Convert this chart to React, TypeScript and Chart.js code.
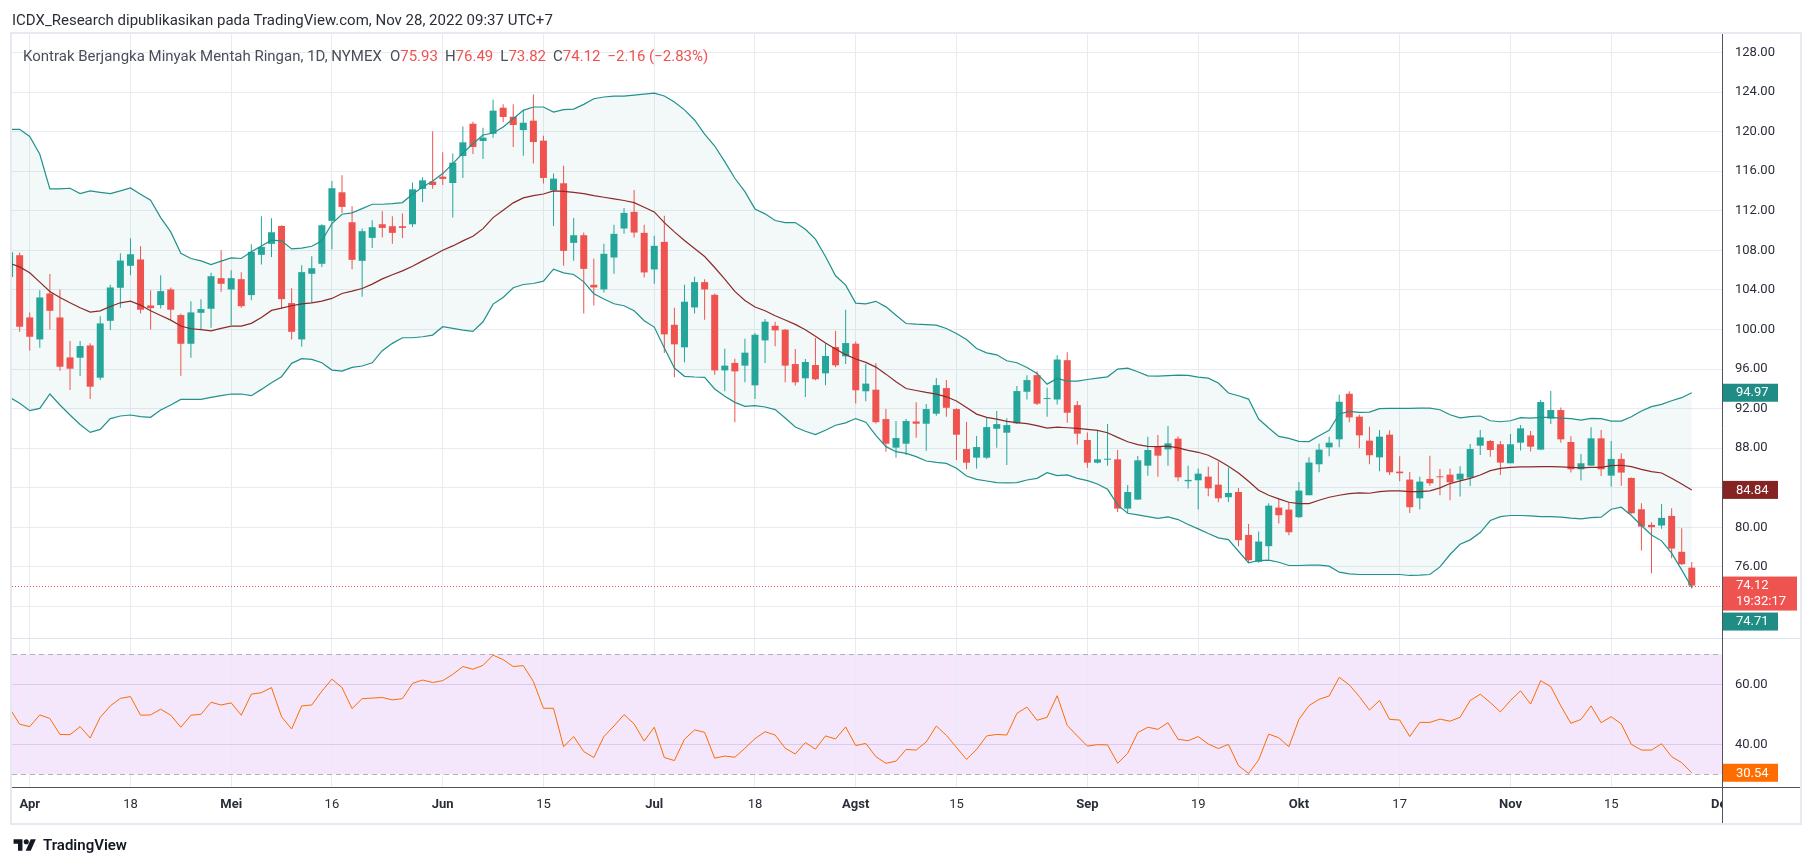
import React, { useEffect, useRef } from 'react';
import { Chart, registerables } from 'chart.js';

Chart.register(...registerables);

// Daily bars, index 0 = 2022-03-30 ... index 167 = 2022-11-28 (CL1!, NYMEX)
const opens = [
  105.3, 107.51, 101.22, 99.0, 103.64, 101.22, 97.18, 97.15, 98.39, 95.13,
  100.88, 104.22, 106.44, 107.08, 102.43, 102.47, 104.05, 101.46, 98.56, 101.69,
  102.1, 105.19, 104.05, 105.09, 103.48, 107.55, 108.66, 110.47, 102.67, 99.0,
  105.63, 106.64, 110.98, 113.87, 110.84, 106.94, 109.26, 110.64, 110.44, 110.44,
  110.64, 114.21, 114.95, 115.45, 114.81, 117.54, 120.8, 119.05, 119.79, 122.42,
  121.51, 120.16, 121.11, 119.09, 114.07, 114.78, 108.76, 109.53, 104.52, 104.05,
  107.28, 110.21, 111.89, 109.77, 106.07, 108.86, 100.48, 98.2, 102.23, 104.79,
  103.51, 95.87, 96.62, 96.35, 94.36, 98.9, 100.38, 99.98, 96.51, 95.07,
  96.41, 95.57, 98.23, 97.29, 98.57, 93.76, 93.92, 90.95, 88.06, 88.46,
  90.71, 90.48, 91.49, 94.08, 91.96, 87.92, 87.05, 87.05, 89.97, 89.57,
  90.51, 93.71, 95.39, 92.97, 92.93, 96.9, 92.36, 88.83, 86.54, 86.84,
  86.88, 81.9, 82.81, 86.24, 88.16, 87.89, 88.97, 84.66, 84.76, 85.13,
  84.32, 83.05, 83.58, 79.24, 76.52, 78.1, 82.0, 81.8, 81.03, 83.25,
  86.38, 88.09, 88.9, 93.51, 91.19, 88.77, 87.08, 89.37, 85.64, 84.83,
  82.94, 84.9, 85.13, 85.33, 84.83, 85.03, 88.26, 88.73, 88.4, 86.48,
  88.56, 89.3, 87.86, 90.99, 91.86, 88.63, 85.87, 86.24, 89.0, 85.23,
  86.92, 85.0, 81.83, 80.25, 80.19, 81.16, 77.53, 75.93,
];
const highs = [
  108.0, 107.78, 101.73, 103.98, 105.6, 104.05, 98.83, 98.83, 98.6, 101.35,
  104.52, 107.71, 109.23, 108.42, 103.98, 105.49, 104.25, 101.62, 102.87, 103.07,
  105.73, 108.02, 106.0, 105.8, 108.62, 111.45, 111.25, 110.54, 104.18, 106.5,
  107.41, 110.64, 115.02, 115.59, 112.46, 110.2, 111.05, 111.95, 111.45, 111.72,
  114.85, 115.39, 120.03, 117.91, 117.78, 120.53, 121.01, 120.4, 123.23, 122.76,
  122.76, 122.22, 123.76, 119.59, 115.76, 116.56, 111.28, 109.8, 107.15, 108.66,
  110.58, 112.29, 114.11, 110.58, 109.47, 111.49, 102.2, 104.52, 105.33, 105.09,
  103.65, 98.06, 97.05, 99.07, 99.64, 101.06, 100.79, 100.05, 98.03, 97.02,
  99.14, 98.63, 99.88, 102.0, 98.8, 96.51, 96.62, 91.96, 90.75, 90.95,
  92.66, 92.46, 95.09, 94.89, 92.03, 90.65, 89.23, 91.12, 91.76, 91.02,
  94.28, 95.39, 95.79, 94.11, 97.41, 97.71, 92.77, 89.6, 89.77, 90.44,
  87.82, 84.29, 87.21, 89.17, 89.33, 90.24, 89.2, 86.24, 85.94, 86.14,
  86.65, 86.04, 83.99, 80.35, 79.58, 82.44, 82.91, 82.57, 84.59, 87.08,
  88.46, 89.17, 93.41, 93.75, 91.39, 90.18, 89.84, 89.81, 87.18, 85.6,
  85.13, 87.25, 85.91, 85.94, 86.17, 88.43, 89.84, 88.83, 88.73, 89.44,
  90.35, 89.74, 92.87, 93.78, 92.13, 89.2, 87.42, 90.11, 89.84, 88.73,
  87.49, 85.05, 82.44, 80.52, 82.37, 81.94, 79.92, 76.49,
];
const lows = [
  104.9, 99.77, 97.86, 98.16, 100.01, 95.84, 93.88, 95.3, 92.98, 94.9,
  99.94, 102.2, 105.49, 101.62, 100.01, 102.13, 101.02, 95.33, 97.15, 99.94,
  100.18, 103.81, 100.45, 102.2, 102.97, 106.57, 107.34, 102.13, 99.0, 98.26,
  102.7, 106.33, 108.12, 111.79, 106.1, 103.31, 108.25, 109.3, 108.66, 109.26,
  110.37, 112.9, 114.24, 114.61, 111.31, 115.32, 117.74, 117.24, 119.39, 120.97,
  118.45, 117.57, 116.77, 114.75, 110.47, 106.44, 106.94, 101.62, 102.44, 103.75,
  105.63, 109.67, 109.3, 105.26, 104.62, 97.62, 95.17, 96.68, 101.63, 100.99,
  95.44, 93.76, 90.63, 94.66, 92.98, 96.62, 98.3, 94.66, 94.33, 93.18,
  94.87, 94.36, 96.18, 96.51, 92.51, 92.75, 90.49, 87.65, 87.05, 87.31,
  89.06, 87.75, 91.29, 91.18, 86.81, 85.87, 85.94, 86.91, 88.06, 86.31,
  90.44, 92.93, 92.36, 91.18, 92.43, 90.58, 88.39, 86.04, 86.47, 86.24,
  81.56, 81.43, 82.77, 85.23, 85.13, 86.24, 84.66, 83.92, 81.8, 83.15,
  82.54, 82.57, 78.1, 76.48, 76.42, 76.75, 80.39, 79.21, 80.96, 83.25,
  85.57, 87.18, 88.09, 90.62, 87.99, 86.38, 85.67, 85.3, 84.66, 81.46,
  81.8, 84.22, 83.25, 82.74, 83.13, 84.19, 87.32, 87.15, 85.3, 86.48,
  87.76, 87.66, 87.86, 90.45, 88.56, 85.54, 84.73, 86.24, 85.2, 84.12,
  84.22, 81.35, 77.66, 75.37, 79.85, 76.89, 76.2, 73.82,
];
const closes = [
  107.8, 100.28, 99.27, 103.24, 101.89, 96.24, 96.04, 98.33, 94.22, 100.62,
  104.25, 106.97, 107.61, 102.0, 102.16, 103.88, 102.0, 98.56, 101.73, 102.06,
  105.39, 104.62, 105.19, 102.36, 107.85, 108.35, 109.83, 103.07, 99.77, 105.8,
  106.2, 110.54, 114.28, 112.39, 107.04, 109.94, 110.34, 110.27, 109.77, 110.27,
  114.17, 115.08, 114.61, 115.22, 116.87, 118.92, 118.45, 119.39, 122.12, 121.48,
  120.67, 120.9, 118.95, 115.32, 115.25, 107.95, 109.53, 106.13, 104.25, 107.65,
  109.67, 111.79, 109.8, 105.77, 108.46, 99.51, 98.5, 102.81, 104.79, 104.05,
  95.87, 96.35, 95.77, 97.66, 99.47, 100.79, 99.91, 96.35, 94.66, 96.72,
  94.97, 97.32, 96.38, 98.63, 93.86, 94.53, 90.63, 88.46, 89.03, 90.75,
  90.48, 91.96, 94.38, 92.09, 89.37, 86.54, 88.12, 90.14, 90.44, 90.34,
  93.78, 94.89, 92.5, 93.07, 96.97, 91.59, 89.47, 86.54, 86.88, 86.91,
  81.9, 83.58, 86.78, 87.82, 87.25, 88.49, 85.06, 84.8, 85.43, 83.95,
  82.94, 83.48, 78.71, 76.69, 78.57, 82.2, 81.23, 79.51, 83.72, 86.55,
  87.86, 88.56, 92.7, 91.12, 89.3, 87.29, 89.17, 85.57, 85.47, 82.04,
  84.63, 84.46, 85.06, 84.56, 85.43, 87.92, 89.1, 87.82, 86.55, 88.4,
  90.01, 88.16, 92.67, 91.86, 88.9, 85.87, 86.48, 89.0, 85.87, 86.92,
  85.54, 81.43, 80.08, 80.02, 80.96, 77.86, 76.28, 74.12,
];

// Bollinger Bands (20, 2) as drawn
const bbUpper = [
  120.23, 120.23, 119.52, 117.71, 114.21, 114.21, 114.28, 113.74, 114.01, 113.87,
  113.74, 114.01, 114.31, 113.67, 113.06, 111.31, 109.87, 107.71, 107.18, 106.94,
  106.57, 106.91, 107.24, 107.18, 107.85, 108.45, 109.03, 108.96, 108.15, 108.22,
  108.42, 108.96, 110.71, 111.65, 111.79, 112.22, 112.66, 112.66, 112.73, 112.83,
  113.67, 114.41, 115.02, 115.76, 116.77, 117.84, 118.78, 119.66, 119.86, 120.47,
  121.31, 122.15, 122.49, 122.49, 121.98, 122.22, 122.28, 122.76, 123.33, 123.5,
  123.6, 123.6, 123.7, 123.8, 123.9, 123.6, 123.0, 122.2, 121.18, 119.76,
  118.55, 116.97, 115.29, 113.94, 112.19, 111.69, 111.02, 110.81, 110.81, 110.14,
  109.13, 107.38, 105.43, 104.49, 102.67, 102.6, 102.85, 102.29, 101.45, 100.61,
  100.54, 100.5, 100.44, 100.1, 99.6, 98.99, 98.08, 97.64, 97.44, 96.84,
  96.64, 96.16, 95.56, 94.48, 95.05, 94.78, 94.78, 94.95, 95.09, 95.22,
  96.0, 96.1, 95.73, 95.32, 95.29, 95.33, 95.39, 95.36, 95.19, 95.09,
  94.59, 93.58, 93.31, 92.97, 90.95, 90.04, 89.2, 89.0, 88.7, 88.67,
  89.27, 89.81, 91.46, 91.73, 91.63, 91.66, 92.0, 92.03, 92.03, 92.03,
  92.06, 92.06, 91.89, 91.39, 91.08, 91.19, 91.26, 90.78, 90.68, 90.78,
  91.09, 91.05, 91.12, 91.12, 91.05, 90.99, 90.85, 91.02, 90.99, 90.75,
  90.75, 91.19, 91.76, 92.2, 92.43, 92.8, 93.11, 93.61,
];
const bbBasis = [
  106.7, 106.33, 105.73, 104.79, 103.85, 103.24, 102.7, 102.2, 101.76, 101.89,
  102.33, 102.7, 102.87, 102.47, 101.89, 101.42, 100.95, 100.35, 100.08, 99.98,
  99.87, 100.11, 100.35, 100.35, 100.62, 101.22, 101.93, 102.16, 102.4, 102.6,
  102.7, 102.87, 103.14, 103.64, 103.88, 104.15, 104.59, 105.12, 105.53, 105.93,
  106.4, 106.94, 107.45, 108.02, 108.45, 108.96, 109.43, 110.2, 111.31, 112.05,
  112.8, 113.3, 113.54, 113.7, 114.01, 113.97, 113.87, 113.74, 113.53, 113.37,
  113.2, 113.04, 112.83, 112.36, 111.89, 110.81, 109.87, 109.0, 108.19, 107.38,
  106.27, 105.09, 103.85, 102.94, 102.27, 101.9, 101.39, 100.96, 100.52, 99.98,
  99.31, 98.63, 98.03, 97.46, 97.02, 96.68, 96.2, 95.49, 94.72, 94.04,
  93.84, 93.64, 93.47, 93.2, 92.77, 92.13, 91.45, 91.12, 90.95, 90.71,
  90.58, 90.48, 90.28, 90.04, 90.14, 90.07, 90.01, 89.91, 89.8, 89.57,
  89.1, 88.66, 88.36, 88.19, 88.16, 88.22, 88.03, 87.79, 87.59, 87.29,
  86.78, 86.17, 85.5, 84.66, 83.75, 83.25, 82.88, 82.54, 82.41, 82.41,
  82.74, 83.05, 83.25, 83.42, 83.48, 83.45, 83.62, 83.69, 83.69, 83.62,
  83.62, 83.69, 83.99, 84.43, 84.7, 84.96, 85.3, 85.74, 85.97, 86.07,
  86.11, 86.11, 86.14, 86.14, 86.11, 86.07, 86.01, 86.07, 86.07, 86.24,
  86.28, 86.14, 85.87, 85.64, 85.5, 84.96, 84.39, 83.79,
];
const bbLower = [
  93.14, 92.54, 91.8, 92.03, 93.48, 92.37, 91.36, 90.4, 89.6, 89.9,
  91.0, 91.26, 91.36, 91.19, 91.13, 91.87, 92.37, 92.94, 92.94, 92.94,
  93.14, 93.31, 93.48, 93.48, 93.31, 93.95, 94.63, 95.23, 96.58, 97.05,
  96.98, 96.64, 95.9, 95.8, 96.17, 96.31, 96.64, 97.86, 98.6, 99.17,
  99.17, 99.27, 99.44, 100.28, 100.11, 99.94, 99.81, 100.78, 102.57, 103.24,
  104.22, 104.55, 104.65, 104.89, 106.1, 105.73, 105.56, 104.82, 103.62, 103.08,
  102.6, 102.4, 101.9, 100.89, 100.25, 98.13, 96.11, 95.27, 95.2, 95.17,
  93.99, 93.25, 92.64, 92.24, 92.31, 92.17, 91.9, 91.06, 90.15, 89.72,
  89.38, 89.82, 90.32, 90.56, 91.0, 90.63, 89.3, 88.16, 87.65, 87.48,
  87.15, 86.71, 86.57, 86.47, 85.97, 85.19, 84.86, 84.69, 84.52, 84.49,
  84.52, 84.79, 84.96, 85.53, 85.23, 85.3, 84.96, 84.72, 84.39, 83.85,
  82.27, 81.43, 81.26, 81.09, 80.92, 81.07, 80.79, 80.29, 79.85, 79.38,
  78.94, 78.77, 77.59, 76.42, 76.65, 76.69, 76.48, 76.15, 76.15, 76.18,
  76.18, 76.08, 75.47, 75.31, 75.24, 75.24, 75.24, 75.24, 75.24, 75.14,
  75.17, 75.24, 76.01, 77.26, 78.3, 78.74, 79.48, 80.69, 81.09, 81.2,
  81.2, 81.16, 81.09, 81.09, 81.03, 80.93, 80.86, 80.99, 81.03, 81.83,
  82.04, 81.2, 80.19, 79.24, 78.64, 77.39, 75.71, 73.93,
];

// RSI (14)
const rsi = [
  52, 46.7, 45.9, 49.8, 48.6, 43.3, 43.2, 45.9, 42.1, 49.0,
  52.8, 55.3, 55.9, 49.7, 49.8, 51.7, 49.7, 45.7, 49.7, 50.0,
  54.0, 53.1, 53.8, 49.7, 56.7, 57.2, 58.9, 49.2, 45.1, 52.8,
  53.1, 57.7, 61.7, 58.9, 51.9, 55.2, 55.4, 55.6, 54.8, 55.2,
  60.3, 61.4, 60.6, 61.2, 63.3, 65.9, 65.0, 66.3, 69.7, 68.2,
  65.9, 66.2, 60.9, 52.0, 52.0, 39.2, 42.6, 37.6, 35.6, 42.6,
  46.1, 49.9, 46.8, 41.1, 45.7, 35.6, 34.6, 41.7, 44.8, 44.0,
  35.4, 36.1, 35.7, 38.7, 41.9, 44.2, 43.1, 38.7, 36.8, 40.6,
  38.4, 42.8, 41.8, 45.8, 39.6, 40.3, 35.9, 33.7, 34.4, 38.3,
  38.1, 40.8, 46.1, 43.0, 39.0, 35.0, 38.3, 42.8, 43.3, 43.1,
  50.3, 52.4, 48.0, 49.0, 56.2, 46.3, 42.8, 39.4, 39.9, 39.8,
  33.7, 37.0, 43.9, 45.7, 45.0, 47.2, 41.7, 41.2, 42.6, 40.1,
  38.6, 40.0, 32.9, 30.3, 34.8, 43.4, 42.2, 39.2, 48.3, 52.9,
  55.0, 56.1, 62.3, 59.8, 55.9, 51.4, 54.6, 48.3, 48.1, 42.6,
  47.3, 47.3, 48.4, 47.7, 49.0, 54.6, 56.7, 53.9, 50.8, 54.6,
  57.8, 53.4, 61.2, 59.2, 52.8, 47.0, 48.3, 52.8, 47.2, 49.2,
  46.8, 40.0, 38.1, 38.1, 40.2, 35.9, 33.9, 30.54,
];

// Time axis: bar index of each label (170 = 1 Dec, beyond the last bar)
const tickIndex = [2, 12, 22, 32, 43, 53, 64, 74, 84, 94, 107, 118, 128, 138, 149, 159, 170];
const tickText = ['Apr', '18', 'Mei', '16', 'Jun', '15', 'Jul', '18', 'Agst', '15', 'Sep', '19', 'Okt', '17', 'Nov', '15', 'Des'];
const monthText = ['Apr', 'Mei', 'Jun', 'Jul', 'Agst', 'Sep', 'Okt', 'Nov', 'Des'];

const priceTicks = [72, 76, 80, 84, 88, 92, 96, 100, 104, 108, 112, 116, 120, 124, 128];
const rsiTicks = [40, 60];
const rsiLevels = [30, 70];

// Price-scale value labels as shown on the chart
const upperLabel = '94.97';
const basisLabel = '84.84';
const lowerLabel = '74.71';
const rsiLabel = '30.54';
const countdownLabel = '19:32:17';

const FONT = 'Roboto, "Liberation Sans", Arial, sans-serif';
const UP = '#26a69a';
const DOWN = '#ef5350';
const BAND = '#22918b';
const BASIS = '#8b2a2a';
const RSI_COLOR = '#ff6d00';
const GRID = '#e8ecf2';
const TEXT = '#2a2e39';

export default function App() {
  const canvasRef = useRef<HTMLCanvasElement | null>(null);

  const last = closes.length - 1;
  const change = closes[last] - closes[last - 1];
  const pct = (change / closes[last - 1]) * 100;
  const fmtSigned = (v: number) => (v < 0 ? '\u2212' : '+') + Math.abs(v).toFixed(2);

  useEffect(() => {
    const canvas = canvasRef.current;
    if (!canvas) return;
    const idx = closes.map((_, i) => i);
    const colors = idx.map((i) => (closes[i] >= opens[i] ? UP : DOWN));
    const pts = (arr: number[]) => arr.map((v, i) => ({ x: i, y: v }));

    const drawBox = (ctx: any, x: number, top: number, w: number, h: number, bg: string, lines: string[]) => {
      ctx.fillStyle = bg;
      ctx.fillRect(x, top, w, h);
      ctx.fillStyle = '#ffffff';
      ctx.font = `13px ${FONT}`;
      ctx.textAlign = 'left';
      ctx.textBaseline = 'middle';
      lines.forEach((t, k) => ctx.fillText(t, x + 13, top + 9.5 + k * 15.5));
    };

    const decor = {
      id: 'decor',
      beforeDraw(chart: any) {
        const { ctx, chartArea: a, scales } = chart;
        ctx.save();
        ctx.fillStyle = '#ffffff';
        ctx.fillRect(0, 0, chart.width, chart.height);
        const r = scales.rsi;
        const y70 = r.getPixelForValue(rsiLevels[1]);
        const y30 = r.getPixelForValue(rsiLevels[0]);
        ctx.fillStyle = '#f4e7fc';
        ctx.fillRect(a.left, y70, a.right - a.left, y30 - y70);
        ctx.restore();
      },
      beforeDatasetsDraw(chart: any) {
        const { ctx, chartArea: a, scales } = chart;
        ctx.save();
        ctx.strokeStyle = 'rgba(120,123,134,0.55)';
        ctx.lineWidth = 1;
        ctx.setLineDash([5, 4]);
        rsiLevels.forEach((lv) => {
          const y = Math.round(scales.rsi.getPixelForValue(lv)) + 0.5;
          ctx.beginPath();
          ctx.moveTo(a.left, y);
          ctx.lineTo(a.right, y);
          ctx.stroke();
        });
        ctx.restore();
      },
      afterDatasetsDraw(chart: any) {
        const { ctx, chartArea: a, scales } = chart;
        ctx.save();
        ctx.strokeStyle = DOWN;
        ctx.lineWidth = 1;
        ctx.setLineDash([1, 2]);
        const y = Math.round(scales.y.getPixelForValue(closes[last])) + 0.5;
        ctx.beginPath();
        ctx.moveTo(a.left, y);
        ctx.lineTo(a.right, y);
        ctx.stroke();
        ctx.restore();
      },
      afterDraw(chart: any) {
        const { ctx, chartArea: a, scales } = chart;
        const py = scales.y;
        const ry = scales.rsi;
        const frameR = a.right + 78;
        const frameB = a.bottom + 36;
        ctx.save();
        // axis area mask right of price scale line in time-axis row
        ctx.fillStyle = '#ffffff';
        ctx.fillRect(a.right + 1, a.bottom + 1, frameR - a.right - 1, frameB - a.bottom - 1);
        // pane separator
        ctx.strokeStyle = '#e0e3eb';
        ctx.lineWidth = 1;
        const sep = Math.round(py.bottom) + 0.5;
        ctx.beginPath();
        ctx.moveTo(a.left, sep);
        ctx.lineTo(frameR, sep);
        ctx.stroke();
        // axis lines
        ctx.strokeStyle = '#50535e';
        const ax = Math.round(a.right) + 0.5;
        const ay = Math.round(a.bottom) + 0.5;
        ctx.beginPath();
        ctx.moveTo(ax, a.top);
        ctx.lineTo(ax, frameB);
        ctx.moveTo(a.left, ay);
        ctx.lineTo(frameR, ay);
        ctx.stroke();
        // frame
        ctx.strokeStyle = '#e6e9ef';
        ctx.lineWidth = 2;
        ctx.strokeRect(a.left - 1, a.top - 1, frameR - a.left + 2, frameB - a.top + 2);
        // value labels on price scale
        const bx = a.right + 1;
        const yU = py.getPixelForValue(bbUpper[last]);
        drawBox(ctx, bx, yU - 9, 55, 18, '#1f8c86', [upperLabel]);
        const yB = py.getPixelForValue(bbBasis[last]);
        drawBox(ctx, bx, yB - 9, 55, 18, '#862323', [basisLabel]);
        const yC = py.getPixelForValue(closes[last]);
        const cTop = yC - 9;
        drawBox(ctx, bx, cTop, 74, 34, DOWN, [closes[last].toFixed(2), countdownLabel]);
        const yL = Math.max(py.getPixelForValue(bbLower[last]), cTop + 34 + 2 + 9);
        drawBox(ctx, bx, yL - 9, 55, 18, '#1f8c86', [lowerLabel]);
        const yR = ry.getPixelForValue(rsi[last]);
        drawBox(ctx, bx, yR - 9, 55, 18, RSI_COLOR, [rsiLabel]);
        ctx.restore();
      },
    };

    const lineDs = (data: number[], color: string, axis: string, extra: any = {}) => ({
      type: 'line',
      data: pts(data),
      borderColor: color,
      borderWidth: 1.2,
      pointRadius: 0,
      tension: 0,
      fill: false,
      yAxisID: axis,
      ...extra,
    });

    const chart = new Chart(canvas, {
      type: 'bar',
      data: {
        datasets: [
          lineDs(bbUpper, BAND, 'y', { fill: '+1', backgroundColor: 'rgba(38,150,140,0.06)' }),
          lineDs(bbLower, BAND, 'y'),
          lineDs(bbBasis, BASIS, 'y'),
          lineDs(rsi, RSI_COLOR, 'rsi', { borderWidth: 1 }),
          {
            type: 'bar',
            data: idx.map((i) => ({ x: i, y: [opens[i], closes[i]] })),
            backgroundColor: colors,
            borderWidth: 0,
            barThickness: 7,
            grouped: false,
            minBarLength: 1,
            inflateAmount: 0,
            yAxisID: 'y',
          },
          {
            type: 'bar',
            data: idx.map((i) => ({ x: i, y: [lows[i], highs[i]] })),
            backgroundColor: colors,
            borderWidth: 0,
            barThickness: 1,
            grouped: false,
            inflateAmount: 0,
            yAxisID: 'y',
          },
        ] as any,
      },
      options: {
        responsive: false,
        animation: false,
        events: [],
        layout: { padding: { left: 12, top: 34, right: 13, bottom: 43 } },
        plugins: {
          legend: { display: false },
          tooltip: { enabled: false },
          filler: { propagate: false, drawTime: 'beforeDatasetsDraw' },
        } as any,
        scales: {
          x: {
            type: 'linear',
            min: 0.24,
            max: 170,
            offset: false,
            afterBuildTicks: (s: any) => {
              s.ticks = tickIndex.map((v) => ({ value: v }));
            },
            afterFit: (s: any) => {
              s.height = 36;
            },
            ticks: {
              autoSkip: false,
              maxRotation: 0,
              padding: 10,
              color: TEXT,
              font: (c: any) => ({
                family: FONT,
                size: 13,
                weight: monthText.includes(tickText[c.index]) ? 'bold' : 'normal',
              }),
              callback: (_v: any, i: number) => tickText[i],
            },
            grid: { color: GRID, drawTicks: false, offset: false },
            border: { display: false },
          },
          y: {
            type: 'linear',
            position: 'right',
            stack: 'panes',
            stackWeight: 604,
            min: 68.82,
            max: 129.87,
            afterBuildTicks: (s: any) => {
              s.ticks = priceTicks.map((v) => ({ value: v }));
            },
            afterFit: (s: any) => {
              s.width = 78;
            },
            ticks: {
              padding: 13,
              color: TEXT,
              font: { family: FONT, size: 13 },
              callback: (v: any) => (Number(v) < 76 ? '' : Number(v).toFixed(2)),
            },
            grid: { color: GRID, drawTicks: false },
            border: { display: false },
          },
          rsi: {
            type: 'linear',
            position: 'right',
            stack: 'panes',
            stackWeight: 149,
            min: 25.8,
            max: 75.4,
            afterBuildTicks: (s: any) => {
              s.ticks = rsiTicks.map((v) => ({ value: v }));
            },
            afterFit: (s: any) => {
              s.width = 78;
            },
            ticks: {
              padding: 13,
              color: TEXT,
              font: { family: FONT, size: 13 },
              callback: (v: any) => Number(v).toFixed(2),
            },
            grid: { color: 'rgba(170,150,205,0.35)', drawTicks: false },
            border: { display: false },
          },
        } as any,
      },
      plugins: [decor],
    } as any);

    return () => chart.destroy();
  }, []);

  return (
    <div
      style={{
        position: 'fixed',
        left: 0,
        top: 0,
        width: 1813,
        height: 866,
        background: '#ffffff',
        overflow: 'hidden',
        fontFamily: FONT,
      }}
    >
      <canvas
        ref={canvasRef}
        width={1813}
        height={866}
        style={{ position: 'absolute', left: 0, top: 0, width: 1813, height: 866 }}
      />
      <div
        style={{
          position: 'absolute',
          left: 12,
          top: 11,
          fontSize: 15,
          lineHeight: '18px',
          color: TEXT,
          whiteSpace: 'nowrap',
        }}
      >
        ICDX_Research dipublikasikan pada TradingView.com, Nov 28, 2022 09:37 UTC+7
      </div>
      <div
        style={{
          position: 'absolute',
          left: 23,
          top: 47,
          fontSize: 15,
          lineHeight: '18px',
          color: '#4a4e59',
          whiteSpace: 'nowrap',
        }}
      >
        <span>Kontrak Berjangka Minyak Mentah Ringan, 1D, NYMEX</span>
        <span style={{ marginLeft: 8 }}>O</span>
        <span style={{ color: DOWN }}>{opens[last].toFixed(2)}</span>
        <span style={{ marginLeft: 7 }}>H</span>
        <span style={{ color: DOWN }}>{highs[last].toFixed(2)}</span>
        <span style={{ marginLeft: 7 }}>L</span>
        <span style={{ color: DOWN }}>{lows[last].toFixed(2)}</span>
        <span style={{ marginLeft: 7 }}>C</span>
        <span style={{ color: DOWN }}>{closes[last].toFixed(2)}</span>
        <span style={{ marginLeft: 7, color: DOWN }}>
          {fmtSigned(change)} ({fmtSigned(pct)}%)
        </span>
      </div>
      <div
        style={{
          position: 'absolute',
          left: 13,
          top: 836,
          display: 'flex',
          alignItems: 'center',
          height: 18,
          color: '#131722',
        }}
      >
        <svg width="24" height="14" viewBox="0 0 36 22" style={{ marginRight: 6 }}>
          <path d="M14 20H7V9H0V2h14z" fill="#131722" />
          <circle cx="20" cy="6" r="4" fill="#131722" />
          <path d="M27 20h-8L27 2h8z" fill="#131722" />
        </svg>
        <span style={{ fontSize: 15, fontWeight: 600 }}>TradingView</span>
      </div>
    </div>
  );
}
